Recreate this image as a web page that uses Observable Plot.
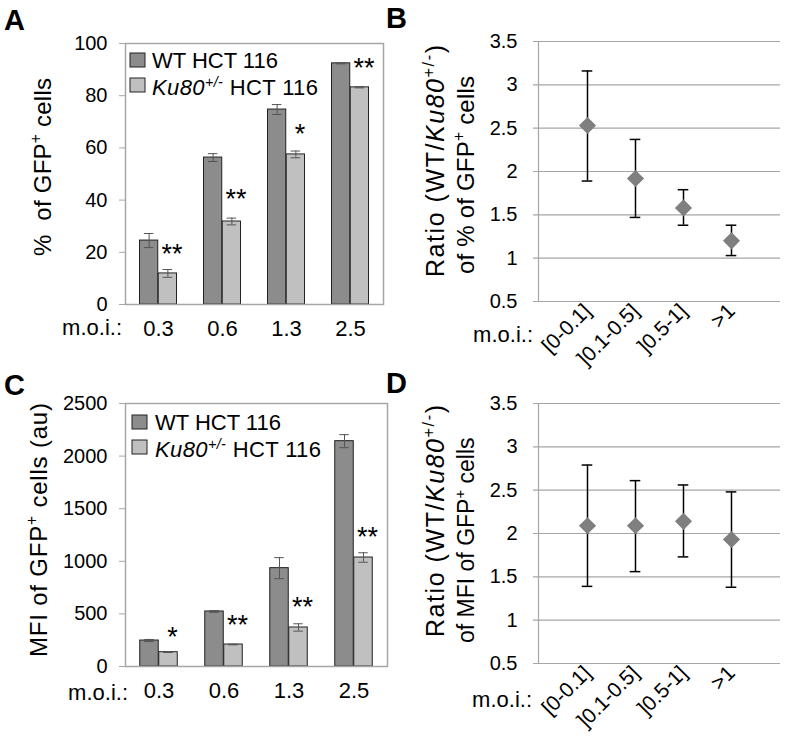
<!DOCTYPE html>
<html><head><meta charset="utf-8">
<script src="https://cdn.jsdelivr.net/npm/d3@7"></script>
<script src="https://cdn.jsdelivr.net/npm/@observablehq/plot@0.6"></script>
<style>
body{margin:0;background:#fff;}
#fig{position:relative;width:785px;height:738px;overflow:hidden;background:#fff;}
#fig svg{position:absolute;}
</style></head><body><div id="fig"></div>
<script>
// ---------- data ----------
const moi = ["0.3", "0.6", "1.3", "2.5"];
const seriesNames = ["WT HCT 116", "Ku80+/- HCT 116"];

// Panel A: % of GFP+ cells
const pctWT = [24.5, 56.3, 74.7, 92.4];
const pctWTErr = [2.7, 1.5, 1.9, 0.2];
const pctKu = [11.9, 31.8, 57.5, 83.2];
const pctKuErr = [1.5, 1.3, 1.3, 0.2];
const pctStars = ["**", "**", "*", "**"];
const pctStarY = [22, 43, 68, 93];
const pctTicks = [0, 20, 40, 60, 80, 100];

// Panel C: MFI of GFP+ cells (au)
const mfiWT = [247, 523, 935, 2142];
const mfiWTErr = [10, 8, 100, 62];
const mfiKu = [136, 209, 371, 1036];
const mfiKuErr = [3, 3, 35, 45];
const mfiStars = ["*", "**", "**", "**"];
const mfiStarY = [342, 456, 627, 1293];
const mfiTicks = [0, 500, 1000, 1500, 2000, 2500];

// Panels B and D: ratios
const moiBins = ["[0-0.1]", "]0.1-0.5]", "]0.5-1]", ">1"];
const ratioPct = [2.53, 1.92, 1.58, 1.20];
const ratioPctLow = [1.89, 1.47, 1.38, 1.03];
const ratioPctHigh = [3.16, 2.37, 1.79, 1.38];
const ratioMfi = [2.09, 2.09, 2.14, 1.93];
const ratioMfiLow = [1.39, 1.56, 1.73, 1.38];
const ratioMfiHigh = [2.79, 2.61, 2.56, 2.48];
const ratioTicks = [0.5, 1, 1.5, 2, 2.5, 3, 3.5];

// ---------- style ----------
const FONT = "'Liberation Sans', Arial, Helvetica, sans-serif";
const WT_FILL = "#8c8c8c", KU_FILL = "#c0c0c0";
const FRAME = "#a6a6a6";
const fig = document.getElementById("fig");

function place(svg, left, top) {
  svg.style.left = left + "px"; svg.style.top = top + "px";
  svg.style.maxWidth = "none";
  fig.appendChild(svg);
  return svg;
}

function addText(svg, {x, y, size, anchor = "start", rotate = 0, weight = "normal", length = null, parts}) {
  const t = d3.select(svg).append("text")
    .attr("transform", `translate(${x},${y}) rotate(${rotate})`)
    .attr("text-anchor", anchor).attr("font-size", size).attr("font-weight", weight)
    .attr("font-family", FONT).attr("fill", "black");
  if (length) t.attr("textLength", length).attr("lengthAdjust", "spacing");
  let shift = 0;
  for (const p of parts) {
    const ts = t.append("tspan").text(p.t);
    if (p.i) ts.attr("font-style", "italic");
    const target = p.sup ? -0.38 * size : 0;
    if (p.sup) ts.attr("font-size", size * 0.65);
    if (target !== shift) ts.attr("dy", target - shift);
    shift = target;
  }
  return t;
}

function barPanel({wt, wtErr, ku, kuErr, stars, starY, ticks, width, height, m, bw}) {
  const rows = moi.map((d, i) => ({moi: d, wt: wt[i], wtErr: wtErr[i], ku: ku[i], kuErr: kuErr[i], star: stars[i], starY: starY[i]}));
  const band = (width - m[3] - m[1]) / moi.length;
  const ins = (band - bw) / 2, cap = (band - 10) / 2;
  const errMarks = (key, errKey, dx) => [
    Plot.ruleX(rows, {x: "moi", y1: d => d[key] - d[errKey], y2: d => d[key] + d[errKey], dx, stroke: "#555", strokeWidth: 1}),
    Plot.tickY(rows, {x: "moi", y: d => d[key] + d[errKey], dx, insetLeft: cap, insetRight: cap, stroke: "#555", strokeWidth: 1}),
    Plot.tickY(rows, {x: "moi", y: d => d[key] - d[errKey], dx, insetLeft: cap, insetRight: cap, stroke: "#555", strokeWidth: 1})
  ];
  return Plot.plot({
    width, height, marginTop: m[0], marginRight: m[1], marginBottom: m[2], marginLeft: m[3],
    style: {fontFamily: FONT, fontSize: "20px", background: "transparent", color: "black", overflow: "visible"},
    x: {domain: moi, padding: 0},
    y: {domain: [ticks[0], ticks[ticks.length - 1]]},
    marks: [
      Plot.barY(rows, {x: "moi", y1: 0, y2: "wt", dx: -bw / 2, insetLeft: ins, insetRight: ins, fill: WT_FILL, stroke: "#222", strokeWidth: 1}),
      Plot.barY(rows, {x: "moi", y1: 0, y2: "ku", dx: bw / 2, insetLeft: ins, insetRight: ins, fill: KU_FILL, stroke: "#222", strokeWidth: 1}),
      ...errMarks("wt", "wtErr", -bw / 2),
      ...errMarks("ku", "kuErr", bw / 2),
      Plot.text(rows, {x: "moi", y: "starY", text: "star", dx: bw / 2 + 4, dy: 7, fontSize: 27}),
      Plot.axisY({ticks, tickSize: 6, tickPadding: 12, stroke: FRAME, fontSize: 20, tickFormat: d => String(d), label: null}),
      Plot.axisX({tickSize: 0, tickPadding: 16, fontSize: 22, label: null}),
      Plot.frame({stroke: FRAME, strokeWidth: 1.5})
    ]
  });
}

function ratioPanel({val, low, high, width, height, m}) {
  const rows = moiBins.map((d, i) => ({bin: d, val: val[i], low: low[i], high: high[i]}));
  const step = (width - m[3] - m[1]) / (moiBins.length + 1);
  const cap = (step - 11) / 2;
  return Plot.plot({
    width, height, marginTop: m[0], marginRight: m[1], marginBottom: m[2], marginLeft: m[3],
    style: {fontFamily: FONT, fontSize: "20px", background: "transparent", color: "black", overflow: "visible"},
    x: {type: "band", domain: moiBins, paddingInner: 0, paddingOuter: 0.5},
    y: {domain: [0.5, 3.5]},
    marks: [
      Plot.ruleY(ratioTicks, {stroke: FRAME, strokeWidth: 1.2, insetLeft: -5}),
      Plot.frame({anchor: "left", stroke: FRAME, strokeWidth: 1.2}),
      Plot.ruleX(rows, {x: "bin", y1: "low", y2: "high", stroke: "black", strokeWidth: 1.5}),
      Plot.tickY(rows, {x: "bin", y: "low", insetLeft: cap, insetRight: cap, stroke: "black", strokeWidth: 1.5}),
      Plot.tickY(rows, {x: "bin", y: "high", insetLeft: cap, insetRight: cap, stroke: "black", strokeWidth: 1.5}),
      Plot.dot(rows, {x: "bin", y: "val", symbol: "diamond2", r: 7.7, fill: "#7f7f7f", stroke: "none"}),
      Plot.axisY({ticks: ratioTicks, tickSize: 0, tickPadding: 21, fontSize: 20, tickFormat: d => String(d), label: null}),
      Plot.axisX({tickRotate: -45, tickSize: 0, tickPadding: 6, fontSize: 21, label: null})
    ]
  });
}

function legend(svg, x, y, textX, pitch, base) {
  const g = d3.select(svg).append("g");
  [WT_FILL, KU_FILL].forEach((c, i) => {
    g.append("rect").attr("x", x).attr("y", y + i * pitch).attr("width", 15).attr("height", 14)
      .attr("fill", c).attr("stroke", "#222").attr("stroke-width", 1);
  });
  addText(svg, {x: textX, y: base, size: 22, parts: [{t: seriesNames[0]}]});
  addText(svg, {x: textX, y: base + pitch + 2, size: 22, length: 166, parts: [{t: "Ku80", i: true}, {t: "+/-", sup: true, i: true}, {t: " HCT 116"}]});
}

// ---------- Panel A ----------
const svgA = place(barPanel({wt: pctWT, wtErr: pctWTErr, ku: pctKu, kuErr: pctKuErr, stars: pctStars, starY: pctStarY,
  ticks: pctTicks, width: 390, height: 370, m: [43, 7, 66, 125], bw: 18.75}), 0, 0);
addText(svgA, {x: 4, y: 30, size: 29, weight: "bold", parts: [{t: "A"}]});
addText(svgA, {x: 50.6, y: 167, size: 24, anchor: "middle", rotate: -90, length: 178, parts: [{t: "%  of GFP"}, {t: "+", sup: true}, {t: " cells"}]});
addText(svgA, {x: 122, y: 335, size: 22, anchor: "end", parts: [{t: "m.o.i.:"}]});
legend(svgA, 130, 53, 152, 25, 68);

// ---------- Panel B ----------
const svgB = place(ratioPanel({val: ratioPct, low: ratioPctLow, high: ratioPctHigh, width: 400, height: 370, m: [41, 5, 69, 153]}), 385, 0);
addText(svgB, {x: 1, y: 28, size: 29, weight: "bold", parts: [{t: "B"}]});
addText(svgB, {x: 58.6, y: 277, size: 25, rotate: -90, length: 232, parts: [{t: "Ratio (WT/"}, {t: "Ku80", i: true}, {t: "+/-", sup: true}, {t: ")"}]});
addText(svgB, {x: 88.6, y: 274, size: 24, rotate: -90, length: 198, parts: [{t: "of % of GFP"}, {t: "+", sup: true}, {t: " cells"}]});
addText(svgB, {x: 148, y: 342, size: 22, anchor: "end", parts: [{t: "m.o.i.:"}]});

// ---------- Panel C ----------
const svgC = place(barPanel({wt: mfiWT, wtErr: mfiWTErr, ku: mfiKu, kuErr: mfiKuErr, stars: mfiStars, starY: mfiStarY,
  ticks: mfiTicks, width: 390, height: 368, m: [33, 3, 72, 125], bw: 19}), 0, 370);
addText(svgC, {x: 4, y: 25, size: 29, weight: "bold", parts: [{t: "C"}]});
addText(svgC, {x: 46.6, y: 160, size: 24, anchor: "middle", rotate: -90, length: 254, parts: [{t: "MFI of GFP"}, {t: "+", sup: true}, {t: " cells (au)"}]});
addText(svgC, {x: 128, y: 330, size: 22, anchor: "end", parts: [{t: "m.o.i.:"}]});
legend(svgC, 132, 45, 155, 25, 60);

// ---------- Panel D ----------
const svgD = place(ratioPanel({val: ratioMfi, low: ratioMfiLow, high: ratioMfiHigh, width: 400, height: 368, m: [33, 5, 75, 153]}), 385, 370);
addText(svgD, {x: 1, y: 23, size: 29, weight: "bold", parts: [{t: "D"}]});
addText(svgD, {x: 58.6, y: 267, size: 25, rotate: -90, length: 232, parts: [{t: "Ratio (WT/"}, {t: "Ku80", i: true}, {t: "+/-", sup: true}, {t: ")"}]});
addText(svgD, {x: 88.6, y: 273, size: 23, rotate: -90, parts: [{t: "of MFI of GFP"}, {t: "+", sup: true}, {t: " cells"}]});
addText(svgD, {x: 147, y: 337, size: 22, anchor: "end", parts: [{t: "m.o.i.:"}]});
</script></body></html>
